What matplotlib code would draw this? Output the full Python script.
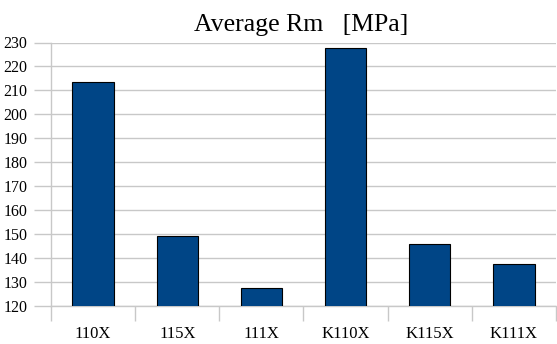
import matplotlib.pyplot as plt
from matplotlib.ticker import FixedLocator

# average tensile strength per sample
categories = ['110X', '115X', '111X', 'K110X', 'K115X', 'K111X']
rm_values = [213.6, 149.1, 127.5, 227.7, 145.8, 137.4]
yticks = list(range(120, 231, 10))

plt.rcParams['font.family'] = ['Liberation Serif', 'DejaVu Serif']

fig = plt.figure(figsize=(5.57, 3.44), dpi=100)
ax = fig.add_axes([51 / 557, 38 / 344, 505 / 557, 263.5 / 344])

x = list(range(len(categories)))
ax.bar(x, rm_values, width=0.49, bottom=0, color='#004586',
       edgecolor='black', linewidth=0.8, zorder=3)

ax.set_ylim(120, 230)
ax.set_xlim(-0.5, len(categories) - 0.5)
ax.set_yticks(yticks)
ax.yaxis.grid(True, color='#c8c8c8', linewidth=1, zorder=0)

ax.set_xticks(x)
ax.set_xticklabels(categories, fontsize=12)
ax.tick_params(axis='x', which='major', length=3, direction='in',
               color='#555555', pad=14.5)
ax.xaxis.set_minor_locator(FixedLocator([i - 0.5 for i in range(len(categories) + 1)]))
ax.tick_params(axis='x', which='minor', length=11, color='#c8c8c8', width=1)
ax.tick_params(axis='y', length=12, color='#c8c8c8', width=1, labelsize=11.5, pad=5)

for side in ['top', 'right']:
    ax.spines[side].set_visible(False)
for side in ['left', 'bottom']:
    ax.spines[side].set_color('#c8c8c8')
    ax.spines[side].set_linewidth(1)

fig.text(0.541, 0.928, 'Average Rm   [MPa]', ha='center', va='center', fontsize=18.5)

fig.savefig('out.png', dpi=100)
